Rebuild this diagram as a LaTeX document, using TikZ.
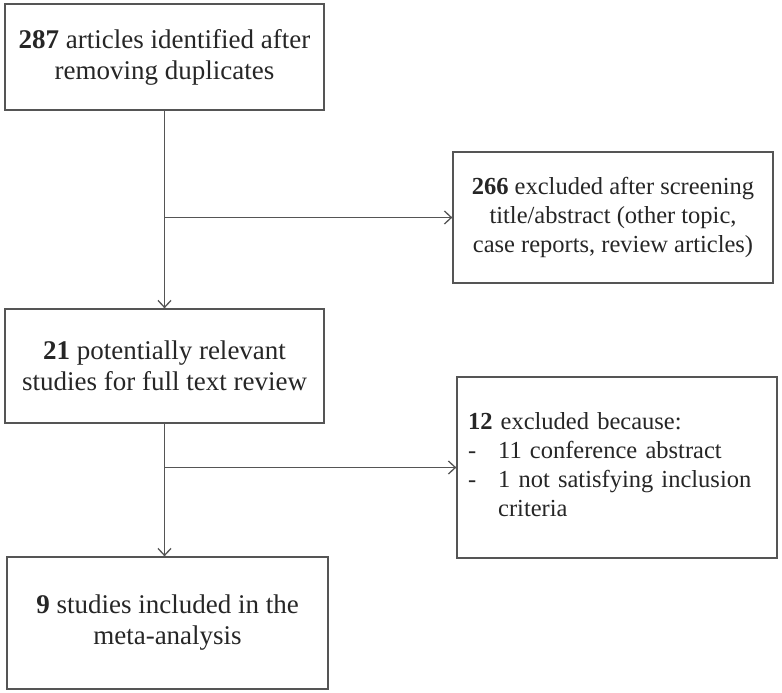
\documentclass[tikz,border=0pt]{standalone}
\usepackage{fontspec}
\setmainfont{Liberation Serif}
\usetikzlibrary{arrows.meta}
\definecolor{linegray}{HTML}{555555}
\definecolor{textgray}{HTML}{262626}
\begin{document}
\begin{tikzpicture}[x=1pt,y=-1pt,
  box/.style={draw=linegray, line width=1.3pt, inner sep=0pt, text=textgray,
    font=\fontsize{27}{31}\selectfont, align=center},
  smallbox/.style={box, font=\fontsize{24.5}{29}\selectfont},
  arr/.style={draw=linegray, line width=1.3pt, -{Straight Barb[length=7pt,width=13pt]}}]
\useasboundingbox[fill=white] (0,0) rectangle (782,693);
\node[box, minimum width=319pt, minimum height=106pt] (a) at (164.5,57)
  {\textbf{287} articles identified after\\removing duplicates};
\node[smallbox, minimum width=320pt, minimum height=131pt] (b) at (613,217.5)
  {\textbf{266} excluded after screening\\title/abstract (other topic,\\case reports, review articles)};
\node[box, minimum width=319pt, minimum height=114pt] (c) at (164.5,366)
  {\textbf{21} potentially relevant\\studies for full text review};
\node[smallbox, minimum width=320pt, minimum height=181pt, inner xsep=11pt, text width=298pt, align=left] (d) at (617,467.5)
  {\begin{tabular}{@{}l@{\hspace{22pt}}l@{}}
   \multicolumn{2}{@{}l@{}}{\textbf{12} excluded because:}\\
   - & 11 conference abstract\\
   - & 1 not satisfying inclusion\\
     & criteria
   \end{tabular}};
\node[box, minimum width=321pt, minimum height=132pt] (e) at (167.5,623)
  {\textbf{9} studies included in the\\meta-analysis};
\draw[arr] (a.south) -- (c.north);
\draw[arr] (a.south |- b.west) -- (b.west);
\draw[arr] (c.south) -- (c.south |- e.north);
\draw[arr] (c.south |- d.west) -- (d.west);
\end{tikzpicture}
\end{document}
